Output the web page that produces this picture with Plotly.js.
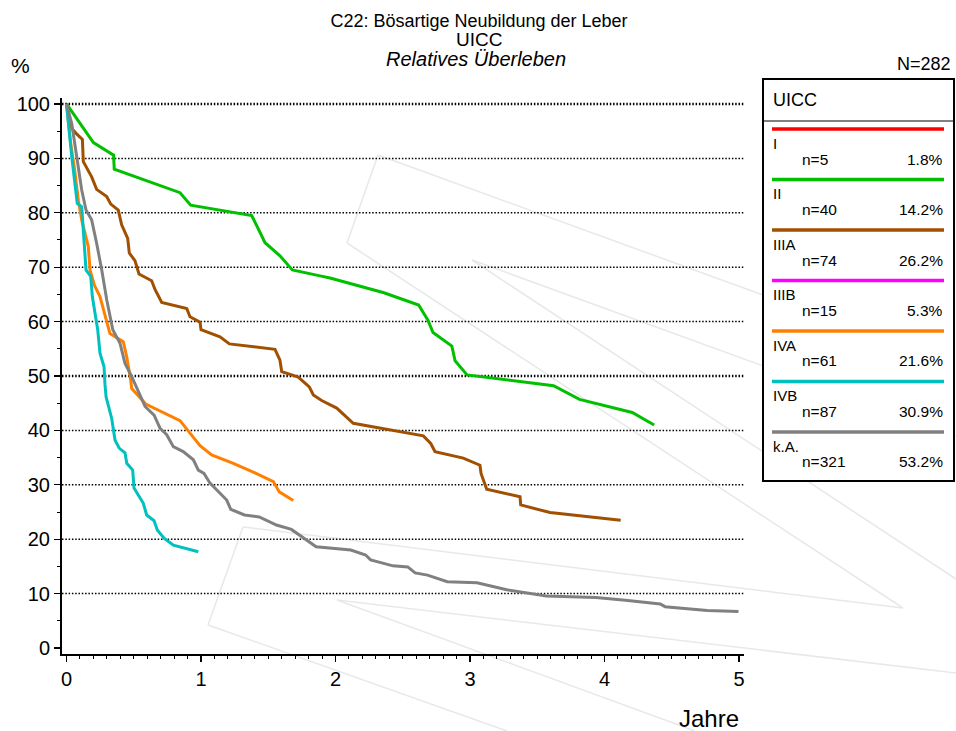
<!DOCTYPE html>
<html>
<head>
<meta charset="utf-8">
<script src="https://cdn.plot.ly/plotly-3.0.1.min.js"></script>
<style>html,body{margin:0;padding:0;background:#fff;}#chart{width:956px;height:731px;}</style>
</head>
<body>
<div id="chart"></div>
<script>
// ---------------- DATA ----------------
const groupNames = ["I", "II", "IIIA", "IIIB", "IVA", "IVB", "k.A."];
const groupN = ["n=5", "n=40", "n=74", "n=15", "n=61", "n=87", "n=321"];
const groupPct = ["1.8%", "14.2%", "26.2%", "5.3%", "21.6%", "30.9%", "53.2%"];
const groupColors = ["#ff0000", "#00c000", "#a05000", "#ff00ff", "#ff8000", "#00c0c0", "#808080"];

const tI = [];
const vI = [];
const tII = [0,0.2,0.35,0.355,0.844,0.923,1.377,1.476,1.587,1.679,1.885,1.959,2.36,2.618,2.686,2.725,2.865,2.889,2.978,3.621,3.814,4.206,4.369];
const vII = [100,92.9,90.6,88.0,83.7,81.4,79.5,74.5,72.1,69.5,68.4,68.0,65.3,63.05,60.3,58.0,55.5,52.8,50.2,48.2,45.7,43.3,41.0];
const tIIIA = [0,0.039,0.071,0.118,0.125,0.187,0.224,0.299,0.329,0.385,0.41,0.455,0.467,0.509,0.539,0.633,0.658,0.708,0.894,0.918,0.993,1.0,1.141,1.211,1.55,1.587,1.6,1.723,1.805,1.835,1.897,2.009,2.132,2.653,2.708,2.74,2.95,3.074,3.082,3.124,3.372,3.377,3.595,3.842,4.12];
const vIIIA = [100,95.5,94.6,93.5,89.4,86.6,84.3,83.0,81.6,80.5,77.8,75.3,72.6,71.2,68.75,67.5,65.9,63.5,62.4,60.9,59.9,58.5,57.2,55.9,54.9,52.9,50.8,49.8,48.0,46.5,45.5,44.1,41.3,39.0,37.6,36.1,34.9,33.6,32.1,29.2,27.8,26.3,24.9,24.3,23.5];
const tIIIB = [];
const vIIIB = [];
const tIVA = [0,0.03,0.06,0.088,0.113,0.14,0.162,0.175,0.207,0.249,0.29,0.323,0.422,0.448,0.477,0.485,0.589,0.844,0.918,0.993,1.079,1.24,1.401,1.538,1.582,1.686];
const vIVA = [100,93,88,82.3,78.7,76,73.8,69.5,66.7,64.6,61,57.8,56.3,53.5,49.3,47.7,44.85,41.8,39.5,37.2,35.5,33.95,32.2,30.6,28.7,27.1];
const tIVB = [0,0.039,0.08,0.113,0.145,0.18,0.192,0.224,0.232,0.249,0.279,0.286,0.294,0.336,0.361,0.393,0.435,0.448,0.492,0.502,0.571,0.596,0.651,0.675,0.725,0.794,0.894,0.98];
const vIVB = [100,90.3,81.7,81.1,69.5,68.3,64.6,59.7,58.5,54.2,51.7,48.5,46.2,42.2,38.2,36.7,35.9,33.95,32.7,29.4,26.6,24.45,23.4,21.7,20.2,18.9,18.3,17.7];
const tKA = [0,0.039,0.076,0.113,0.145,0.187,0.224,0.262,0.299,0.344,0.398,0.435,0.485,0.541,0.584,0.651,0.695,0.745,0.794,0.868,0.943,0.98,1.022,1.067,1.117,1.191,1.221,1.323,1.433,1.561,1.672,1.746,1.856,2.114,2.224,2.261,2.427,2.537,2.592,2.684,2.831,3.052,3.273,3.567,3.935,4.156,4.414,4.45,4.709,4.764,4.996];
const vKA = [100,96.4,90.3,84.2,80.5,78.7,74.4,69.5,64.0,58.5,56.0,52.3,49.9,46.8,44.4,42.8,40.4,39.2,37.0,36.1,34.6,32.7,32.1,30.3,29.0,27.2,25.5,24.45,24.1,22.6,21.8,20.5,18.6,18.0,17.1,16.2,15.1,14.9,13.8,13.4,12.2,12.0,10.7,9.56,9.3,8.8,8.1,7.6,7.1,6.9,6.7];

const xTicks = [0, 1, 2, 3, 4, 5];
const yTicks = [0, 10, 20, 30, 40, 50, 60, 70, 80, 90, 100];
const gridValues = [10, 20, 30, 40, 50, 60, 70, 80, 90, 100];
const boldGrid = [50, 100];

const seriesT = [tI, tII, tIIIA, tIIIB, tIVA, tIVB, tKA];
const seriesV = [vI, vII, vIIIA, vIIIB, vIVA, vIVB, vKA];

// ---------------- LAYOUT HELPERS ----------------
const W = 956, H = 731;
const mL = 62, mR = 212, mT = 98, mB = 77;
const pw = W - mL - mR, ph = H - mT - mB;
const px = x => (x - mL) / pw;          // pixel -> paper x
const py = y => (H - mB - y) / ph;      // pixel -> paper y
const FONT = "Liberation Sans, Arial, sans-serif";

const traces = groupNames.map((g, i) => ({
  type: "scatter", mode: "lines", name: g,
  x: seriesT[i], y: seriesV[i],
  line: {color: groupColors[i], width: 3},
  showlegend: false, hoverinfo: "skip"
}));

const shapes = [];
// watermark (faint logo lines)
const wm = [
  [378,155,347,243],[378,155,763,295],[347,243,903,608],
  [472,260,956,436],[472,260,956,579],
  [243,527,208,625],[243,527,903,608],[208,625,507,731],
  [337,600,956,673],[337,600,695,731]
];
wm.forEach(s => shapes.push({type:"line", xref:"paper", yref:"paper", layer:"below",
  x0:px(s[0]), y0:py(s[1]), x1:px(s[2]), y1:py(s[3]),
  line:{color:"#e8e8e8", width:1.5}}));
// grid lines
gridValues.forEach(v => shapes.push({type:"line", xref:"paper", yref:"y", layer:"below",
  x0:0, x1:1, y0:v, y1:v,
  line:{color:"#000", width: boldGrid.includes(v) ? 2.4 : 1.5, dash:"1.5px,1.8px"}}));
// legend box
const bx0 = 763, bx1 = 954, by0 = 79, by1 = 481;
shapes.push({type:"rect", xref:"paper", yref:"paper", layer:"above",
  x0:px(bx0), x1:px(bx1), y0:py(by0), y1:py(by1),
  fillcolor:"#fff", line:{color:"#000", width:2}});
shapes.push({type:"line", xref:"paper", yref:"paper", layer:"above",
  x0:px(bx0), x1:px(bx1), y0:py(121), y1:py(121), line:{color:"#000", width:1}});

const annotations = [];
const lgStep = 50.5, lgY0 = 129;
groupNames.forEach((g, i) => {
  const ly = lgY0 + i * lgStep;
  shapes.push({type:"line", xref:"paper", yref:"paper", layer:"above",
    x0:px(772), x1:px(944), y0:py(ly), y1:py(ly), line:{color:groupColors[i], width:3.5}});
  annotations.push({xref:"paper", yref:"paper", x:px(771), y:py(ly+14), xanchor:"left", yanchor:"middle",
    text:g, showarrow:false, font:{family:FONT, size:15, color:"#000"}});
  annotations.push({xref:"paper", yref:"paper", x:px(800), y:py(ly+30), xanchor:"left", yanchor:"middle",
    text:groupN[i], showarrow:false, font:{family:FONT, size:15.5, color:"#000"}});
  annotations.push({xref:"paper", yref:"paper", x:px(945), y:py(ly+30), xanchor:"right", yanchor:"middle",
    text:groupPct[i], showarrow:false, font:{family:FONT, size:15.5, color:"#000"}});
});
annotations.push({xref:"paper", yref:"paper", x:px(771), y:py(100), xanchor:"left", yanchor:"middle",
  text:"UICC", showarrow:false, font:{family:FONT, size:18, color:"#000"}});
annotations.push({xref:"paper", yref:"paper", x:px(479), y:py(39), xanchor:"center", yanchor:"middle",
  text:"UICC", showarrow:false, font:{family:FONT, size:19, color:"#000"}});
annotations.push({xref:"paper", yref:"paper", x:px(476), y:py(59), xanchor:"center", yanchor:"middle",
  text:"<i>Relatives Überleben</i>", showarrow:false, font:{family:FONT, size:20, color:"#000"}});
annotations.push({xref:"paper", yref:"paper", x:px(9), y:py(66), xanchor:"left", yanchor:"middle",
  text:"%", showarrow:false, font:{family:FONT, size:21, color:"#000"}});
annotations.push({xref:"paper", yref:"paper", x:px(953), y:py(64), xanchor:"right", yanchor:"middle",
  text:"N=282", showarrow:false, font:{family:FONT, size:18, color:"#000"}});
annotations.push({xref:"paper", yref:"paper", x:px(741), y:py(718), xanchor:"right", yanchor:"middle",
  text:"Jahre", showarrow:false, font:{family:FONT, size:24, color:"#000"}});

const layout = {
  width: W, height: H,
  margin: {l: mL, r: mR, t: mT, b: mB, pad: 0},
  paper_bgcolor: "#fff", plot_bgcolor: "rgba(0,0,0,0)",
  showlegend: false,
  title: {text: "C22: Bösartige Neubildung der Leber", xref: "container", yref: "container",
    x: 479 / W, y: 1 - 20.5 / H, xanchor: "center", yanchor: "middle",
    font: {family: FONT, size: 18, color: "#000"}},
  font: {family: FONT, color: "#000"},
  xaxis: {
    range: [-0.0335, 5.037], showgrid: false, zeroline: false,
    showline: true, linecolor: "#000", linewidth: 2,
    tickmode: "array", tickvals: xTicks, ticktext: xTicks.map(String),
    ticks: "outside", ticklen: 6, tickwidth: 1.3, tickcolor: "#000",
    tickfont: {family: FONT, size: 20, color: "#000"},
    minor: {ticks: "outside", dtick: 0.1, tick0: 0, ticklen: 3, tickwidth: 1, tickcolor: "#000", showgrid: false},
    fixedrange: true
  },
  yaxis: {
    range: [-1.1, 101.1], showgrid: false, zeroline: false,
    showline: true, linecolor: "#000", linewidth: 2,
    tickmode: "array", tickvals: yTicks, ticktext: yTicks.map(String),
    ticks: "outside", ticklen: 6, tickwidth: 1.3, tickcolor: "#000",
    tickfont: {family: FONT, size: 20, color: "#000"},
    minor: {ticks: "outside", dtick: 5, tick0: 0, ticklen: 3, tickwidth: 1, tickcolor: "#000", showgrid: false},
    fixedrange: true
  },
  shapes: shapes,
  annotations: annotations
};

Plotly.newPlot("chart", traces, layout, {displayModeBar: false, staticPlot: true});
</script>
</body>
</html>
